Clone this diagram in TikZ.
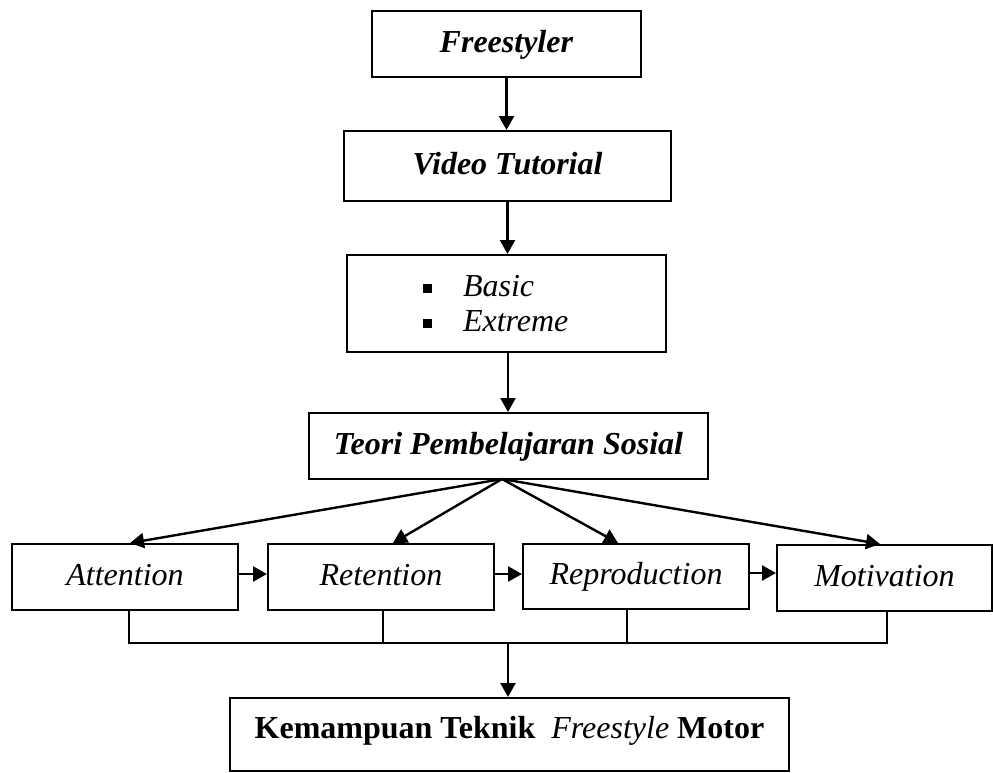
\documentclass[tikz,border=0pt]{standalone}
\usepackage{fontspec}
\setmainfont{Liberation Serif}
\usetikzlibrary{arrows.meta,calc}
\begin{document}
\begin{tikzpicture}[x=1pt,y=-1pt,
  box/.style={draw, line width=2pt, inner sep=0pt, anchor=center,
    text height=21pt, text depth=5pt,
    font=\fontsize{32}{35}\selectfont},
  arr/.style={line width=2.4pt, -{Triangle[length=14pt,width=15pt]}},
  conn/.style={line width=2pt}]
\useasboundingbox (0,0) rectangle (993,772);
\node[box, minimum width=269pt, minimum height=66pt] (free) at (506.5,44) {\textbf{\textit{Freestyler}}};
\node[box, minimum width=327pt, minimum height=70pt] (video) at (507.5,166) {\textbf{\textit{Video Tutorial}}};
\node[box, text height=, text depth=, minimum width=319pt, minimum height=97pt, text width=319pt, align=left] (basic) at (506.5,303.5)
  {\hspace*{76pt}\rule[3pt]{9pt}{9pt}\hspace{31pt}\textit{Basic}\\
   \hspace*{76pt}\rule[3pt]{9pt}{9pt}\hspace{31pt}\textit{Extreme}};
\node[box, minimum width=399pt, minimum height=66pt] (teori) at (508.5,446) {\textbf{\textit{Teori Pembelajaran Sosial}}};
\node[box, minimum width=226pt, minimum height=66pt] (att) at (125,577) {\textit{Attention}};
\node[box, minimum width=226pt, minimum height=66pt] (ret) at (381,577) {\textit{Retention}};
\node[box, minimum width=226pt, minimum height=65pt] (rep) at (636,576.5) {\textit{Reproduction}};
\node[box, minimum width=215pt, minimum height=66pt] (mot) at (884.5,578) {\textit{Motivation}};
\node[box, text depth=14pt, minimum width=559pt, minimum height=73pt] (kem) at (509.5,734.5)
  {\textbf{Kemampuan Teknik}\ \ \textit{Freestyle} \textbf{Motor}};
% helper points on node borders
\coordinate (bs) at ([xshift=1.5pt]basic.south);
\coordinate (attS) at ([xshift=4pt]att.south);
\coordinate (retS) at ([xshift=2pt]ret.south);
\coordinate (repS) at ([xshift=-9pt]rep.south);
\coordinate (motS) at ([xshift=2.5pt]mot.south);
% vertical chain
\draw[arr] (free.south) -- (video.north -| free.south);
\draw[arr] (video.south) -- (basic.north -| video.south);
\draw[arr] (bs) -- (teori.north -| bs);
% fan out
\coordinate (apex) at (502,479);
\draw[arr] (apex) -- ([xshift=5pt]att.north);
\draw[arr] (apex) -- ([xshift=12pt]ret.north);
\draw[arr] (apex) -- ([xshift=-18pt]rep.north);
\draw[arr] (apex) -- ([xshift=-4.5pt]mot.north);
% horizontal arrows
\draw[arr] ([yshift=3pt]att.east) -- ([yshift=3pt]att.east -| ret.west);
\draw[arr] ([yshift=3pt]ret.east) -- ([yshift=3pt]ret.east -| rep.west);
\draw[arr] ([yshift=3.5pt]rep.east) -- ([yshift=3.5pt]rep.east -| mot.west);
% bus
\coordinate (bus) at (508,643);
\draw[conn] (attS) |- (motS |- bus) -- (motS);
\draw[conn] (retS) -- (retS |- bus);
\draw[conn] (repS) -- (repS |- bus);
\draw[arr] (bus) -- (kem.north -| bus);
\end{tikzpicture}
\end{document}
